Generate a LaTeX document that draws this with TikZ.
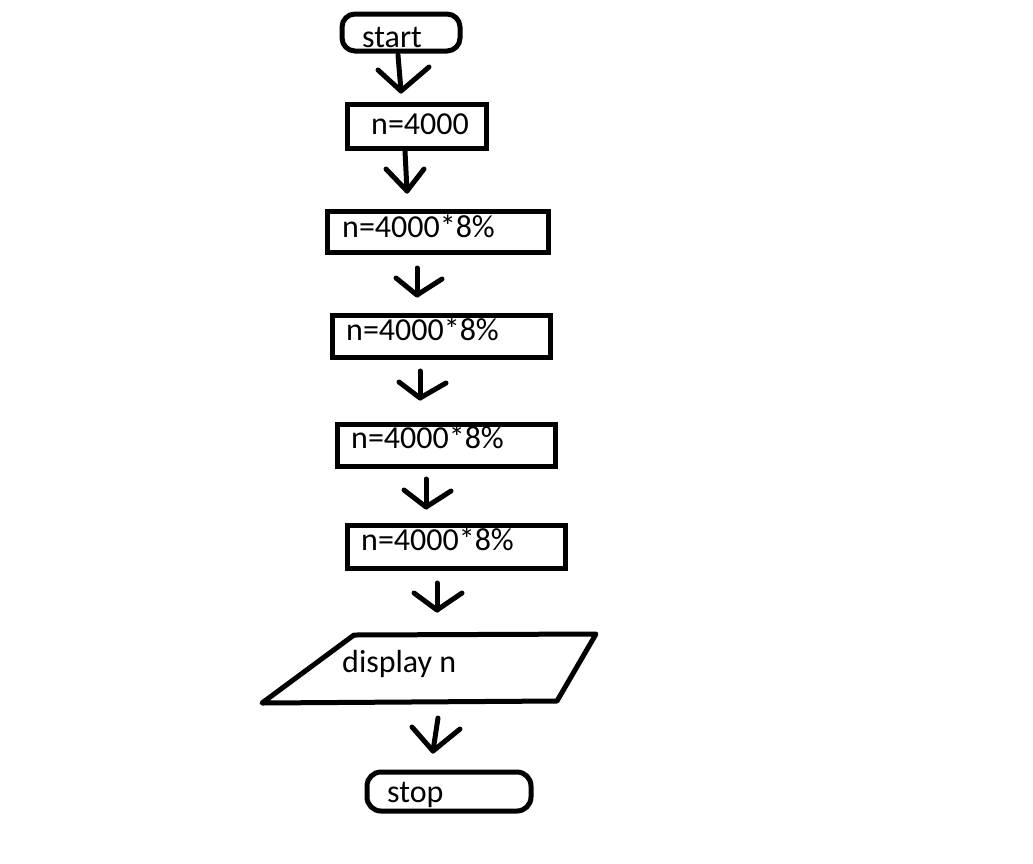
\documentclass[tikz,border=0pt]{standalone}
\usepackage{fontspec}
\setmainfont{Carlito}
\begin{document}
\begin{tikzpicture}[x=1pt,y=-1pt,
  boxline/.style={line width=5pt},
  conn/.style={line width=5pt,line cap=round,line join=round},
  txt/.style={anchor=base west,inner sep=0pt,font=\fontsize{32}{38}\selectfont}]
\useasboundingbox[fill=white] (0,0) rectangle (1033,863);
% terminal start
\draw[boxline,rounded corners=13pt] (342,14) rectangle (460,51);
\node[txt] (tstart) at (362,47) {start};
% process boxes
\draw[boxline] (347,104) rectangle (486,148);
\node[txt] (t1) at (371,134) {n=4000};
\draw[boxline] (327,211) rectangle (548,252);
\node[txt] (t2) at (342,237) {n=4000*8\%};
\draw[boxline] (332,315) rectangle (550,357);
\node[txt] (t3) at (346,340) {n=4000*8\%};
\draw[boxline] (337,424) rectangle (555,466);
\node[txt] (t4) at (351,448) {n=4000*8\%};
\draw[boxline] (347,525) rectangle (565,568);
\node[txt] (t5) at (361,550) {n=4000*8\%};
% display
\draw[boxline,line join=round] (354,635) -- (596,634) -- (557,701) -- (262,703) -- cycle;
\node[txt] (t6) at (342,672) {display n};
% stop
\draw[boxline,rounded corners=14pt] (367,772) rectangle (531,811);
\node[txt] (t7) at (387,802) {stop};
% arrows
\coordinate (s1) at (398,55); \coordinate (p1) at (401,91);
\coordinate (l1) at (378,70); \coordinate (r1) at (429,67);
\draw[conn] (s1) -- (p1); \draw[conn] (l1) -- (p1) -- (r1);
\coordinate (s2) at (405,151); \coordinate (p2) at (407,191);
\coordinate (l2) at (386,169); \coordinate (r2) at (424,169);
\draw[conn] (s2) -- (p2); \draw[conn] (l2) -- (p2) -- (r2);
\coordinate (s3) at (417,268); \coordinate (p3) at (417,295);
\coordinate (l3) at (396,278); \coordinate (r3) at (442,279);
\draw[conn] (s3) -- (p3); \draw[conn] (l3) -- (p3) -- (r3);
\coordinate (s4) at (420,371); \coordinate (p4) at (420,398);
\coordinate (l4) at (399,382); \coordinate (r4) at (446,383);
\draw[conn] (s4) -- (p4); \draw[conn] (l4) -- (p4) -- (r4);
\coordinate (s5) at (426,479); \coordinate (p5) at (426,507);
\coordinate (l5) at (404,490); \coordinate (r5) at (451,491);
\draw[conn] (s5) -- (p5); \draw[conn] (l5) -- (p5) -- (r5);
\coordinate (s6) at (437,583); \coordinate (p6) at (437,610);
\coordinate (l6) at (414,593); \coordinate (r6) at (462,593);
\draw[conn] (s6) -- (p6); \draw[conn] (l6) -- (p6) -- (r6);
\coordinate (s7) at (438,718); \coordinate (p7) at (433,751);
\coordinate (l7) at (412,727); \coordinate (r7) at (460,729);
\draw[conn] (s7) -- (p7); \draw[conn] (l7) -- (p7) -- (r7);
\end{tikzpicture}
\end{document}
